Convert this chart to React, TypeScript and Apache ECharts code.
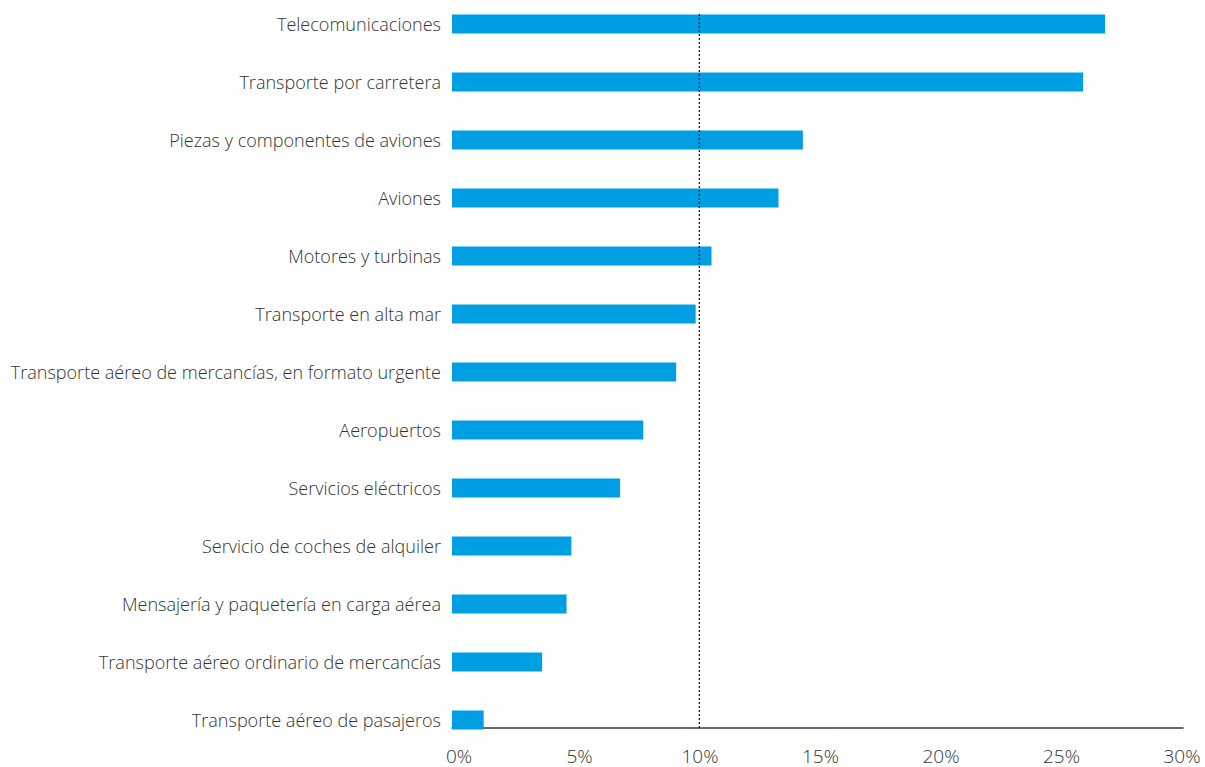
import React, { useEffect, useRef } from "react";
import * as echarts from "echarts";

const categories: string[] = [
  "Telecomunicaciones",
  "Transporte por carretera",
  "Piezas y componentes de aviones",
  "Aviones",
  "Motores y turbinas",
  "Transporte en alta mar",
  "Transporte aéreo de mercancías, en formato urgente",
  "Aeropuertos",
  "Servicios eléctricos",
  "Servicio de coches de alquiler",
  "Mensajería y paquetería en carga aérea",
  "Transporte aéreo ordinario de mercancías",
  "Transporte aéreo de pasajeros",
];

const values: number[] = [26.8, 25.9, 14.4, 13.4, 10.65, 10.0, 9.2, 7.85, 6.9, 4.9, 4.7, 3.7, 1.3];

const referenceValue = 10.15;
const xTicks: number[] = [0, 5, 10, 15, 20, 25, 30];

export default function App() {
  const ref = useRef<HTMLDivElement>(null);
  useEffect(() => {
    if (!ref.current) return;
    const chart = echarts.init(ref.current, undefined, { renderer: "svg" });
    const font = "'Open Sans', 'Noto Sans', sans-serif";
    chart.setOption({
      animation: false,
      grid: { left: 452, width: 731, top: 0, height: 754, containLabel: false },
      xAxis: [
        {
          type: "value",
          min: xTicks[0],
          max: xTicks[xTicks.length - 1],
          interval: 5,
          offset: -21,
          axisLine: { show: true, lineStyle: { color: "#3a3a3a", width: 1.5 } },
          axisTick: { show: false },
          splitLine: { show: false },
          axisLabel: { show: false },
        },
        {
          type: "value",
          position: "bottom",
          min: -0.29,
          max: 30.04,
          offset: -21,
          axisLine: { show: false },
          axisTick: { show: false },
          splitLine: { show: false },
          axisLabel: {
            customValues: xTicks,
            formatter: "{value}%",
            margin: 18,
            fontSize: 19,
            lineHeight: 19,
            fontWeight: 300,
            color: "#333",
            fontFamily: font,
          },
        },
      ],
      yAxis: {
        type: "category",
        data: categories,
        inverse: true,
        axisLine: { show: false },
        axisTick: { show: false },
        axisLabel: { margin: 11, fontSize: 18.05, fontWeight: 300, color: "#333", fontFamily: font },
      },
      series: [
        {
          type: "bar",
          data: values,
          barWidth: 19,
          itemStyle: { color: "#009fe3" },
        },
      ],
    });
    const x = chart.convertToPixel({ xAxisIndex: 0 }, referenceValue) as number;
    const yTop = (chart.convertToPixel({ yAxisIndex: 0 }, categories[0]) as number) - 10;
    const yAxisLine = (chart.convertToPixel({ yAxisIndex: 0 }, categories[categories.length - 1]) as number) + 8;
    chart.setOption({
      graphic: [
        {
          type: "line",
          shape: { x1: x, y1: yTop, x2: x, y2: yAxisLine },
          style: { stroke: "#111", lineWidth: 1.2, lineDash: [2, 2] },
          z: 10,
        },
      ],
    });
    return () => chart.dispose();
  }, []);
  return (
    <div
      ref={ref}
      style={{ position: "fixed", left: 0, top: -5, width: 1205, height: 772, background: "#fff" }}
    />
  );
}
